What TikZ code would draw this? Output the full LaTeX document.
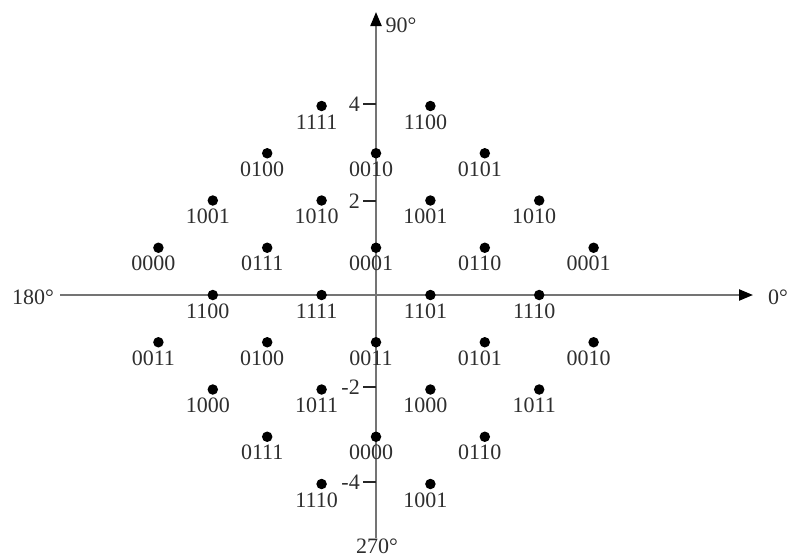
\documentclass[tikz,border=0pt]{standalone}
\usepackage{fontspec}
\setmainfont{Liberation Serif}
\usetikzlibrary{arrows.meta}
\definecolor{axisgray}{HTML}{747474}
\definecolor{txt}{HTML}{2E2E2E}
\begin{document}
\begin{tikzpicture}[x=1pt,y=-1pt,
  axisline/.style={draw=axisgray, line width=2.2pt},
  arrowtip/.style={-{Triangle[length=14pt,width=11pt,fill=black,color=black]}},
  dotnode/.style={circle, fill=black, inner sep=0pt, minimum size=10.5pt},
  lab/.style={text=txt, font=\fontsize{22}{26}\selectfont, inner sep=0pt},
  tickline/.style={draw=black!85, line width=1.4pt}]
\useasboundingbox (0,0) rectangle (792,558);
% axes
\coordinate (xl) at (60,295);
\coordinate (xr) at (753,295);
\coordinate (yb) at (376,538);
\coordinate (yt) at (376,12);
\draw[axisline, arrowtip] (xl) -- (xr);
\draw[axisline, arrowtip] (yb) -- (yt);
\node[lab] (l180) at (33,297) {180°};
\node[lab] (l0) at (778,297) {0°};
\node[lab] (l90) at (401,25) {90°};
\node[lab] (l270) at (377,546) {270°};
% ticks
\foreach \v/\ty/\nm in {4/104/a, 2/201/b, -2/387/c, -4/482/d}{
  \coordinate (t\nm) at (376,\ty);
  \coordinate (s\nm) at (363,\ty);
  \draw[tickline] (s\nm) -- (t\nm);
  \node[lab, anchor=east] (tl\nm) at (360,\ty) {\v};
}
% constellation points
\foreach \i/\j/\t [count=\n] in {
  -1/4/1111, 1/4/1100,
  -2/3/0100, 0/3/0010, 2/3/0101,
  -3/2/1001, -1/2/1010, 1/2/1001, 3/2/1010,
  -4/1/0000, -2/1/0111, 0/1/0001, 2/1/0110, 4/1/0001,
  -3/0/1100, -1/0/1111, 1/0/1101, 3/0/1110,
  -4/-1/0011, -2/-1/0100, 0/-1/0011, 2/-1/0101, 4/-1/0010,
  -3/-2/1000, -1/-2/1011, 1/-2/1000, 3/-2/1011,
  -2/-3/0111, 0/-3/0000, 2/-3/0110,
  -1/-4/1110, 1/-4/1001}{
  \pgfmathsetmacro{\px}{376+54.4*\i}
  \pgfmathsetmacro{\py}{295-47.25*\j}
  \node[dotnode] (p\n) at (\px,\py) {};
  \node[lab] (q\n) at ([xshift=-5pt,yshift=-16pt]p\n.center) {\t};
}
\end{tikzpicture}
\end{document}
